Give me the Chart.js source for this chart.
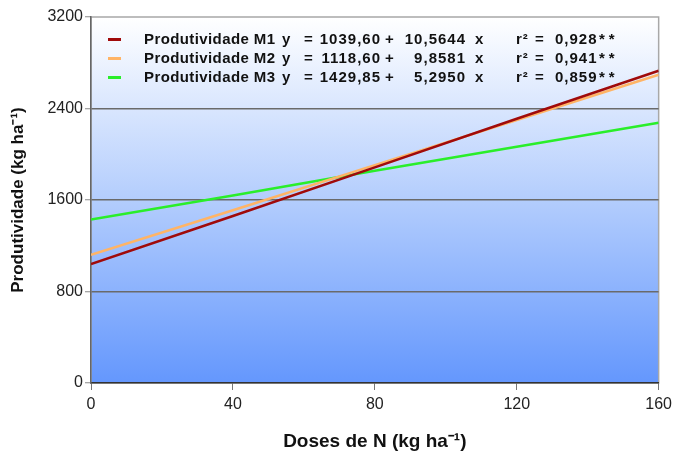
<!DOCTYPE html>
<html>
<head>
<meta charset="utf-8">
<script src="https://cdn.jsdelivr.net/npm/chart.js@4"></script>
<style>
  html, body { margin: 0; padding: 0; background: #fff; }
  #wrap { width: 677px; height: 453px; }
</style>
</head>
<body>
<div id="wrap"><canvas id="chart" width="677" height="453"></canvas></div>
<script>
// doses de N (kg/ha)
const doses = [0, 40, 80, 120, 160];

// valores
const prodM1 = [1040, 1460, 1885, 2310, 2730];
const prodM2 = [1120, 1510, 1905, 2300, 2695];
const prodM3 = [1430, 1640, 1855, 2065, 2275];

const seriesNames = ["Produtividade M1", "Produtividade M2", "Produtividade M3"];
const intercepts = ["1039,60", "1118,60", "1429,85"];
const slopes = ["10,5644", "9,8581", "5,2950"];
const r2Values = ["0,928", "0,941", "0,859"];
const colors = ["#a00a0a", "#ffb466", "#2aee2a"];

const yTicks = [0, 800, 1600, 2400, 3200];
const xTicks = [0, 40, 80, 120, 160];

const FONT = "'Liberation Sans', Arial, sans-serif";

function pts(arr) {
  return doses.map((d, i) => ({ x: d, y: arr[i] }));
}

// fundo em degrade da area do grafico
const bgPlugin = {
  id: "bg",
  beforeDraw(chart) {
    const { ctx, chartArea: a } = chart;
    let g = ctx.createLinearGradient(0, a.top, 0, a.bottom);
    g.addColorStop(0, "#ffffff");
    g.addColorStop(0.5, "#b3cdfd");
    g.addColorStop(1, "#6497fd");
    ctx.save();
    ctx.fillStyle = g;
    ctx.fillRect(a.left, a.top, a.right - a.left, a.bottom - a.top);
    ctx.strokeStyle = "#a8a8a8";
    ctx.lineWidth = 1.5;
    ctx.strokeRect(a.left, a.top, a.right - a.left, a.bottom - a.top);
    ctx.restore();
  }
};

// legenda com as equacoes
const legendPlugin = {
  id: "eqLegend",
  afterDatasetsDraw(chart) {
    const { ctx, chartArea: a } = chart;
    const L = a.left;
    ctx.save();
    ctx.font = "bold 15px " + FONT;
    ctx.fillStyle = "#111";
    ctx.textBaseline = "middle";
    for (let i = 0; i < seriesNames.length; i++) {
      let y = a.top + 22.5 + i * 19;
      ctx.strokeStyle = colors[i];
      ctx.lineWidth = 3;
      ctx.beginPath();
      ctx.moveTo(L + 17, y);
      ctx.lineTo(L + 30, y);
      ctx.stroke();

      ctx.textAlign = "left";
      ctx.letterSpacing = "0.4px";
      ctx.fillText(seriesNames[i], L + 53, y);
      ctx.letterSpacing = "1px";
      ctx.fillText("y", L + 191, y);
      ctx.fillText("=", L + 213, y);
      ctx.fillText("+", L + 294, y);
      ctx.fillText("x", L + 384, y);
      ctx.fillText("r²", L + 425, y);
      ctx.fillText("=", L + 444, y);
      ctx.fillText(r2Values[i], L + 464, y);
      ctx.letterSpacing = "4px";
      ctx.fillText("**", L + 508, y);
      ctx.letterSpacing = "1px";
      ctx.textAlign = "right";
      ctx.fillText(intercepts[i], L + 290, y);
      ctx.fillText(slopes[i], L + 375, y);
    }
    ctx.restore();
  }
};

new Chart(document.getElementById("chart"), {
  type: "line",
  data: {
    datasets: [
      { label: seriesNames[0], data: pts(prodM1), borderColor: colors[0] },
      { label: seriesNames[1], data: pts(prodM2), borderColor: colors[1] },
      { label: seriesNames[2], data: pts(prodM3), borderColor: colors[2] }
    ]
  },
  options: {
    responsive: false,
    animation: false,
    layout: { padding: { left: 0, top: 17, right: 18, bottom: 0 } },
    elements: {
      point: { radius: 0 },
      line: { borderWidth: 2.5, tension: 0 }
    },
    plugins: {
      legend: { display: false },
      tooltip: { enabled: false }
    },
    scales: {
      x: {
        type: "linear",
        min: 0,
        max: 160,
        afterBuildTicks: s => { s.ticks = xTicks.map(v => ({ value: v })); },
        afterFit: s => { s.height = 70; },
        grid: { drawOnChartArea: false, tickLength: 7, tickColor: "#777", tickWidth: 1 },
        border: { color: "#333", width: 1.5 },
        ticks: { color: "#222", padding: 5, font: { size: 16, family: FONT }, callback: v => String(v) },
        title: {
          display: true,
          text: "Doses de N (kg ha⁻¹)",
          color: "#111",
          font: { size: 19, weight: "bold", family: FONT },
          padding: { top: 10, bottom: 0 }
        }
      },
      y: {
        min: 0,
        max: 3200,
        afterBuildTicks: s => { s.ticks = yTicks.map(v => ({ value: v })); },
        afterFit: s => { s.width = 91; },
        grid: {
          color: c => (c.tick && (c.tick.value === 0 || c.tick.value === 3200)) ? "rgba(0,0,0,0)" : "#6a6a6a",
          lineWidth: 1.5,
          tickLength: 6,
          tickColor: "#888",
          tickWidth: 1
        },
        border: { color: "#666", width: 1.5 },
        ticks: { color: "#222", padding: 2, font: { size: 16, family: FONT }, callback: v => String(v) },
        title: {
          display: true,
          text: "Produtividade (kg ha⁻¹)",
          color: "#111",
          font: { size: 17, weight: "bold", family: FONT },
          padding: { top: 8, bottom: 0 }
        }
      }
    }
  },
  plugins: [bgPlugin, legendPlugin]
});
</script>
</body>
</html>
